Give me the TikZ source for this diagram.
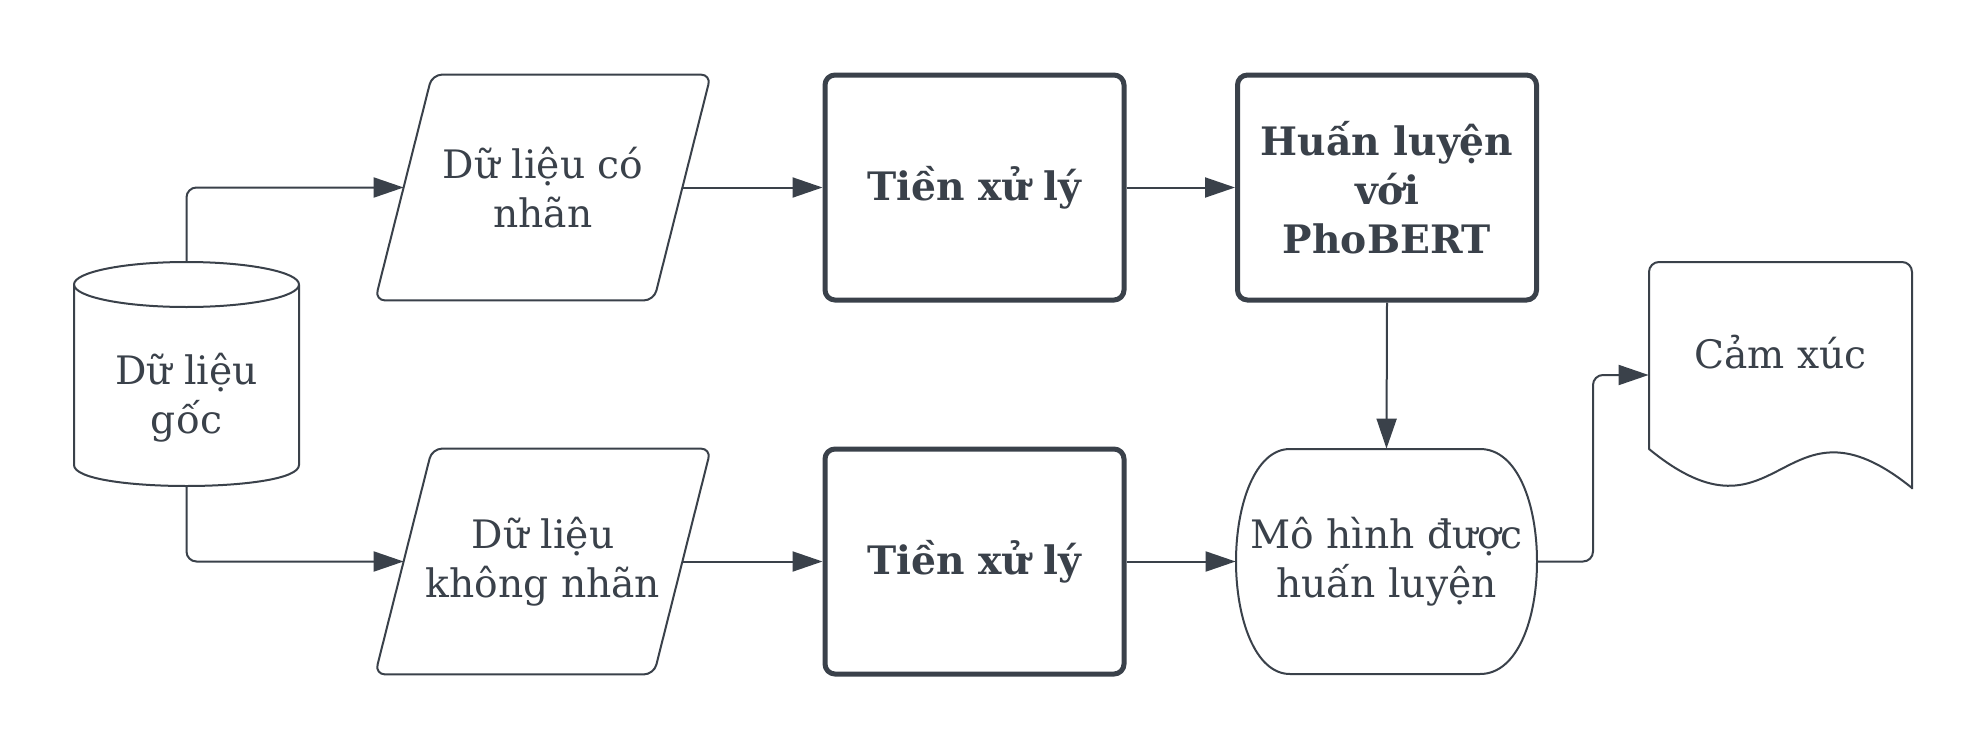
\documentclass[tikz,border=0pt]{standalone}
\usepackage{fontspec}
\setmainfont{DejaVu Serif}
\usetikzlibrary{arrows.meta,calc}
\definecolor{ink}{HTML}{3A414A}
\begin{document}
\begin{tikzpicture}[x=0.5pt,y=-0.5pt,
  txt/.style={font=\fontsize{19.6pt}{24.5pt}\selectfont, text=ink, align=center, inner sep=0pt},
  frame/.style={draw=ink, line width=1pt, line join=round},
  proc/.style={txt, draw=ink, line width=2.5pt, rounded corners=5pt,
    minimum width=149.5pt, minimum height=112.5pt,
    font=\fontsize{19.6pt}{24.5pt}\selectfont\bfseries},
  ghost/.style={txt, minimum width=#1, minimum height=112.5pt},
  conn/.style={draw=ink, line width=1pt, rounded corners=5pt,
    -{Triangle[length=15pt,width=10pt]}}]
\fill[white] (0,0) rectangle (1988,750);
\useasboundingbox (0,0) rectangle (1988,750);

% nodes
\node[ghost=112.5pt, minimum height=112pt] (cyl) at (186.5,374) {};
\node[txt] (cyltxt) at (186.5,398) {Dữ liệu\\gốc};
\node[ghost=139pt] (p1) at (543,187.5) {Dữ liệu có\\nhãn};
\node[ghost=139pt] (p2) at (543,561.5) {Dữ liệu\\không nhãn};
\node[proc] (b1) at (974.5,187.5) {Tiền xử lý};
\node[proc] (b2) at (974.5,561.5) {Tiền xử lý};
\node[proc] (b3) at (1387,187.5) {Huấn luyện\\với\\PhoBERT};
\node[ghost=150.5pt] (m) at (1386.5,561.5) {Mô hình được\\huấn luyện};
\node[ghost=131.5pt, minimum height=113pt] (doc) at (1780.5,375) {};
\node[txt] (doctxt) at (1780.5,352) {Cảm xúc};

% cylinder
\draw[frame] (186.5,284.5) ellipse[x radius=112.5, y radius=22.5];
\draw[frame] (74,284.5) -- (74,465) .. controls (74,493) and (299,493) .. (299,465) -- (299,284.5);

% parallelograms
\draw[frame, rounded corners=5pt] ($(p1.north west)+(28.5,0)$) -- ($(p1.north east)+(28.5,0)$)
  -- ($(p1.south east)+(-28.5,0)$) -- ($(p1.south west)+(-28.5,0)$) -- cycle;
\draw[frame, rounded corners=5pt] ($(p2.north west)+(28.5,0)$) -- ($(p2.north east)+(28.5,0)$)
  -- ($(p2.south east)+(-28.5,0)$) -- ($(p2.south west)+(-28.5,0)$) -- cycle;

% trained model shape
\draw[frame] (1290,449) -- (1480,449) .. controls (1518,449) and (1537,505) .. (1537,561.5)
  .. controls (1537,618) and (1518,674) .. (1480,674) -- (1290,674)
  .. controls (1255,674) and (1236,618) .. (1236,561.5)
  .. controls (1236,505) and (1255,449) .. (1290,449) -- cycle;

% document shape
\draw[frame] (1912,488) .. controls (1781,382) and (1781,557) .. (1649,449)
  [rounded corners=5pt] -- (1649,262) -- (1912,262) -- (1912,489);

% connectors
\draw[conn] (cyl.north) |- (p1.west);
\draw[conn] (cyl.south) |- (p2.west);
\draw[conn] (p1.east) -- (b1.west);
\draw[conn] (b1.east) -- (b3.west);
\draw[conn] (p2.east) -- (b2.west);
\draw[conn] (b2.east) -- (m.west);
\draw[conn] (b3.south) -- (m.north);
\coordinate (bend) at (1593,375);
\draw[conn] (m.east) -| (bend) -- (doc.west);
\end{tikzpicture}
\end{document}
